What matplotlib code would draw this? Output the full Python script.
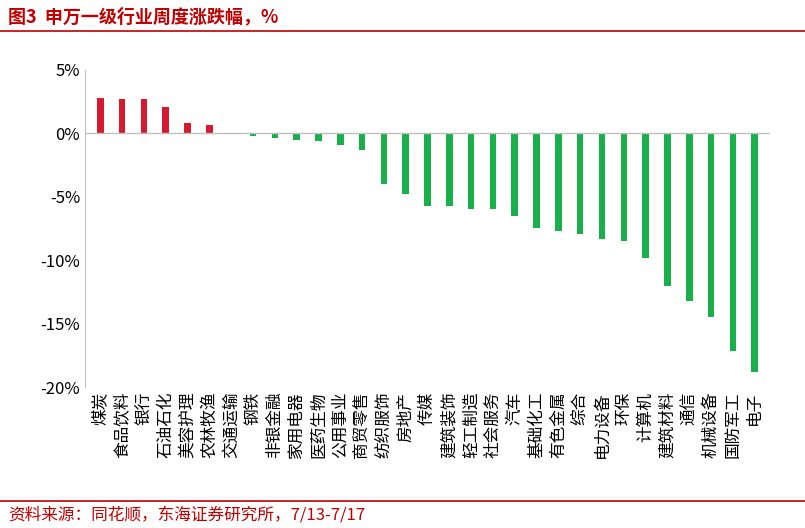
import matplotlib
matplotlib.use("Agg")
import matplotlib.pyplot as plt
from matplotlib.lines import Line2D

plt.rcParams['font.family'] = ['Noto Sans CJK SC', 'DejaVu Sans']

categories = ["煤炭","食品饮料","银行","石油石化","美容护理","农林牧渔","交通运输","钢铁","非银金融","家用电器",
              "医药生物","公用事业","商贸零售","纺织服饰","房地产","传媒","建筑装饰","轻工制造","社会服务","汽车",
              "基础化工","有色金属","综合","电力设备","环保","计算机","建筑材料","通信","机械设备","国防军工","电子"]
values = [2.8,2.7,2.7,2.1,0.8,0.7,-0.05,-0.2,-0.4,-0.5,-0.6,-0.9,-1.3,-4.0,-4.8,-5.7,-5.7,-6.0,-6.0,-6.5,
          -7.5,-7.7,-7.9,-8.3,-8.5,-9.8,-12.0,-13.2,-14.5,-17.2,-18.8]
yticks = [5,0,-5,-10,-15,-20]

fig = plt.figure(figsize=(8.05,5.28), dpi=100)
ax = fig.add_axes([85/805, 1-387/528, (770-85)/805, (387-70)/528])
colors = ['#d7192f' if v > 0 else '#19b04b' for v in values]
x = range(len(categories))
ax.bar(x, values, width=0.3, color=colors)
ax.set_ylim(-20,5)
ax.set_xlim(-0.7, len(categories)-0.3)
ax.set_yticks(yticks)
ax.set_yticklabels([f"{t}%" for t in yticks], fontsize=12)
ax.axhline(0, color='#bfbfbf', lw=1)
for s in ['top','right','bottom']:
    ax.spines[s].set_visible(False)
ax.spines['left'].set_color('#bfbfbf')
ax.tick_params(axis='y', length=0)
ax.tick_params(axis='x', length=0)
ax.set_xticks(list(x))
ax.set_xticklabels(categories, rotation=90, fontsize=12)

fig.text(8/805, 1-17/528, "图3  申万一级行业周度涨跌幅，%", fontsize=13, fontweight='bold', color='#c00000', va='center')
fig.add_artist(Line2D([0,1],[1-31/528]*2, color='#c00000', lw=1.2))
fig.add_artist(Line2D([0,1],[1-501/528]*2, color='#c00000', lw=1.2))
fig.text(8/805, 1-515/528, "资料来源：同花顺，东海证券研究所，7/13-7/17", fontsize=12, color='#c00000', va='center')
fig.savefig("out.png", dpi=100)
